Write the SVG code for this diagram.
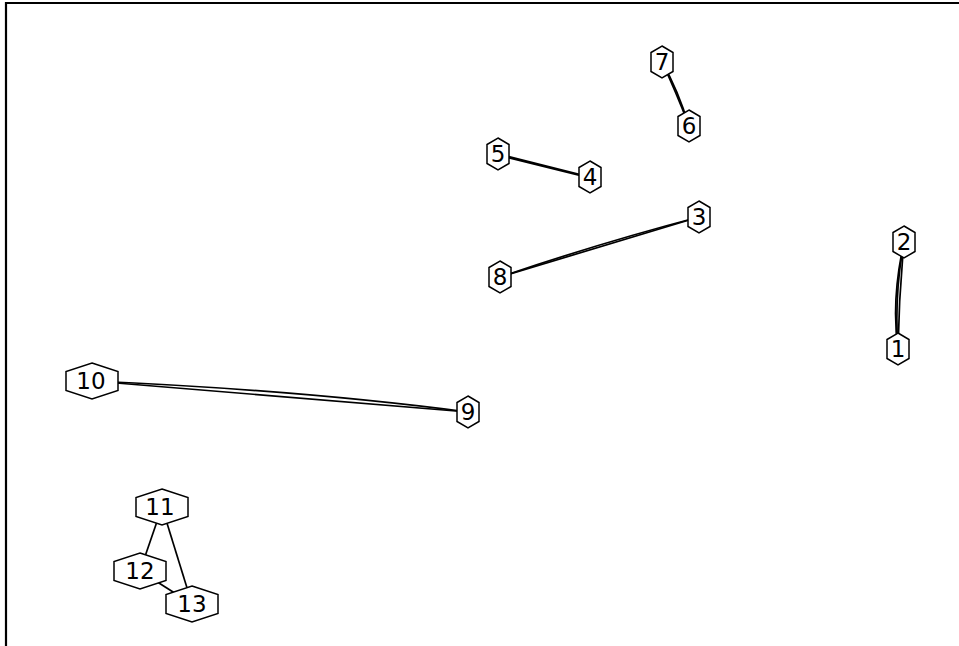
<svg xmlns="http://www.w3.org/2000/svg" width="959" height="646" viewBox="0 0 959 646">
<style>
.e{fill:none;stroke:#000;stroke-width:1.7}
.h{fill:#fff;stroke:#000;stroke-width:1.5}
.t{font-family:"DejaVu Sans",sans-serif;font-size:23px;text-anchor:middle;fill:#000}
</style>
<defs>
<polygon id="hs" points="0,-16 11,-9.5 11,9.5 0,16 -11,9.5 -11,-9.5"/>
<polygon id="hl" points="0,-18 26,-9.5 26,9.5 0,18 -26,9.5 -26,-9.5"/>
</defs>
<rect width="959" height="646" fill="#fff"/>
<path d="M6,646 V3 H959" fill="none" stroke="#000" stroke-width="2.2"/>
<g id="edges">
<path class="e" d="M662,62 Q678,90 689,126"/>
<path class="e" d="M662,62 Q676,92 689,126"/>
<path class="e" d="M498,154 L590,177"/>
<path class="e" d="M498,155 L590,178"/>
<path class="e" d="M500,277 L699,217"/>
<path class="e" d="M500,277 Q600,243 699,217"/>
<path class="e" d="M904,242 Q894,295 898,349"/>
<path class="e" d="M904,242 Q899,295 898,349"/>
<path class="e" d="M904,242 Q891,300 898,349"/>
<path class="e" d="M92,381 L468,412"/>
<path class="e" d="M92,381 Q300,390 468,412"/>
<path class="e" d="M162,507 L140,571"/>
<path class="e" d="M162,507 L192,604"/>
<path class="e" d="M140,571 L192,604"/>
</g>
<g id="n7"><use href="#hs" class="h" x="662" y="62"/><text class="t" x="662" y="70">7</text></g>
<g id="n6"><use href="#hs" class="h" x="689" y="126"/><text class="t" x="689" y="134">6</text></g>
<g id="n5"><use href="#hs" class="h" x="498" y="154"/><text class="t" x="498" y="162">5</text></g>
<g id="n4"><use href="#hs" class="h" x="590" y="177"/><text class="t" x="590" y="185">4</text></g>
<g id="n3"><use href="#hs" class="h" x="699" y="217"/><text class="t" x="699" y="225">3</text></g>
<g id="n8"><use href="#hs" class="h" x="500" y="277"/><text class="t" x="500" y="285">8</text></g>
<g id="n2"><use href="#hs" class="h" x="904" y="242"/><text class="t" x="904" y="250">2</text></g>
<g id="n1"><use href="#hs" class="h" x="898" y="349"/><text class="t" x="898" y="357">1</text></g>
<g id="n9"><use href="#hs" class="h" x="468" y="412"/><text class="t" x="468" y="420">9</text></g>
<g id="n10"><use href="#hl" class="h" x="92" y="381"/><text class="t" x="91" y="389">10</text></g>
<g id="n11"><use href="#hl" class="h" x="162" y="507"/><text class="t" x="160" y="515">11</text></g>
<g id="n12"><use href="#hl" class="h" x="140" y="571"/><text class="t" x="140" y="579">12</text></g>
<g id="n13"><use href="#hl" class="h" x="192" y="604"/><text class="t" x="192" y="612">13</text></g>
</svg>
